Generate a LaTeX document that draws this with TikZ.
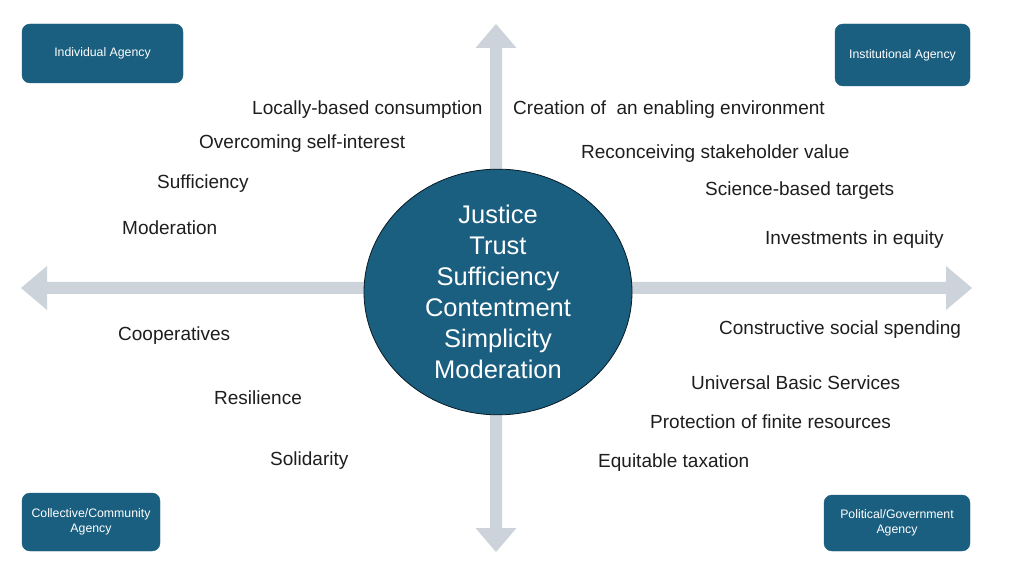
\documentclass[tikz,border=0pt]{standalone}
\usepackage{fontspec}
\setmainfont{Liberation Sans}
\usetikzlibrary{shapes.geometric}
\definecolor{boxblue}{RGB}{26,94,128}
\definecolor{arrowgray}{RGB}{205,211,218}
\definecolor{txt}{RGB}{30,30,30}
\begin{document}
\begin{tikzpicture}[x=1pt,y=1pt,
  agency/.style={draw=boxblue,fill=boxblue,rounded corners=8pt,text=white,align=center,
    font=\fontsize{12.3}{14.5}\selectfont,inner sep=0pt},
  item/.style={anchor=west,inner sep=0pt,text=txt,font=\fontsize{19}{22}\selectfont},
  core/.style={ellipse,draw=black!70!boxblue,line width=0.8pt,fill=boxblue,text=white,align=center,
    minimum width=268pt,minimum height=240pt,inner sep=0pt,
    font=\fontsize{25.5}{31}\selectfont}]
\useasboundingbox (0,0) rectangle (1024,576);
\fill[white] (0,0) rectangle (1024,576);
% axes arrows
\fill[arrowgray] (490,48) -- (490,528) -- (475.5,528) -- (496,552) -- (516.5,528) -- (502,528)
  -- (502,48) -- (516.5,48) -- (496,24) -- (475.5,48) -- cycle;
\fill[arrowgray] (47,282) -- (946,282) -- (946,266) -- (972,288) -- (946,310) -- (946,294)
  -- (47,294) -- (47,310) -- (21,288) -- (47,266) -- cycle;
% centre
\node[core] (c) at (498,284) {Justice\\Trust\\Sufficiency\\Contentment\\Simplicity\\Moderation};
% agency boxes
\node[agency,minimum width=161pt,minimum height=59pt] (ind) at (102.5,522.5) {Individual Agency};
\node[agency,minimum width=135pt,minimum height=62pt] (ins) at (902.5,521) {Institutional Agency};
\node[agency,minimum width=138pt,minimum height=58pt] (col) at (91,54) {Collective/Community\\Agency};
\node[agency,minimum width=146pt,minimum height=56pt] (pol) at (897,53) {Political/Government\\Agency};
% items
\node[item] (i1) at (252,466) {Locally-based consumption};
\node[item] (i2) at (199,432) {Overcoming self-interest};
\node[item] (i3) at (157,392) {Sufficiency};
\node[item] (i4) at (122,348) {Moderation};
\node[item] (n1) at (513,466) {Creation of\ \ an enabling environment};
\node[item] (n2) at (581,422) {Reconceiving stakeholder value};
\node[item] (n3) at (705,385) {Science-based targets};
\node[item] (n4) at (765,336) {Investments in equity};
\node[item] (k1) at (118,240) {Cooperatives};
\node[item] (k2) at (214,178) {Resilience};
\node[item] (k3) at (270,115) {Solidarity};
\node[item] (p1) at (719,246) {Constructive social spending};
\node[item] (p2) at (691,193) {Universal Basic Services};
\node[item] (p3) at (650,154) {Protection of finite resources};
\node[item] (p4) at (598,113) {Equitable taxation};
\end{tikzpicture}
\end{document}
